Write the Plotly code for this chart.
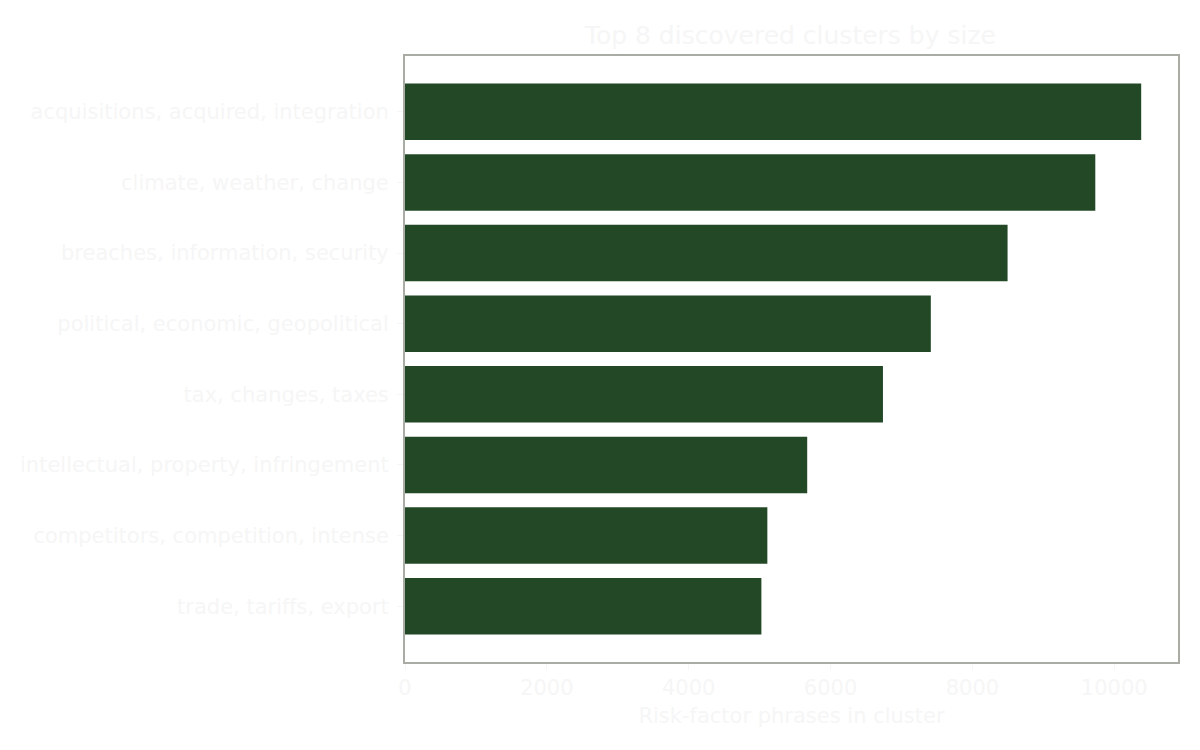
import plotly.graph_objects as go

# cluster labels, largest first
clusters = [
    "acquisitions, acquired, integration",
    "climate, weather, change",
    "breaches, information, security",
    "political, economic, geopolitical",
    "tax, changes, taxes",
    "intellectual, property, infringement",
    "competitors, competition, intense",
    "trade, tariffs, export",
]
sizes = [10380, 9733, 8496, 7414, 6739, 5671, 5109, 5025]

x_ticks = [0, 2000, 4000, 6000, 8000, 10000]

text_col = "#f6f6f6"
edge_col = "#a9aba5"

fig = go.Figure()
fig.add_trace(go.Bar(
    x=sizes,
    y=list(range(len(clusters))),
    orientation="h",
    width=0.8,
    marker=dict(color="#234826", line=dict(width=0)),
))

fig.update_layout(
    width=1200,
    height=750,
    paper_bgcolor="white",
    plot_bgcolor="white",
    font=dict(family="DejaVu Sans", color=text_col, size=21),
    margin=dict(l=395, r=30, t=48, b=96),
    showlegend=False,
    title=dict(
        text="Top 8 discovered clusters by size",
        x=0.652, xanchor="center",
        y=0.964, yanchor="middle",
        font=dict(size=25, color=text_col),
    ),
)

fig.update_xaxes(
    range=[0, max(sizes) * 1.05],
    tickvals=x_ticks,
    ticktext=[str(v) for v in x_ticks],
    ticks="outside", ticklen=6, tickwidth=1, tickcolor=text_col,
    showgrid=False, zeroline=False,
    showline=True, linecolor=edge_col, linewidth=2, mirror=True,
    title=dict(text="Risk-factor phrases in cluster", standoff=9,
               font=dict(size=21, color=text_col)),
    tickfont=dict(size=21, color=text_col),
)
fig.update_yaxes(
    range=[len(clusters) - 0.21, -0.79],
    tickvals=list(range(len(clusters))),
    ticktext=clusters,
    ticks="outside", ticklen=6, tickwidth=1, tickcolor=text_col,
    ticklabelstandoff=4,
    showgrid=False, zeroline=False,
    showline=True, linecolor=edge_col, linewidth=2, mirror=True,
    tickfont=dict(size=21, color=text_col),
)

fig.write_html("out.html")
